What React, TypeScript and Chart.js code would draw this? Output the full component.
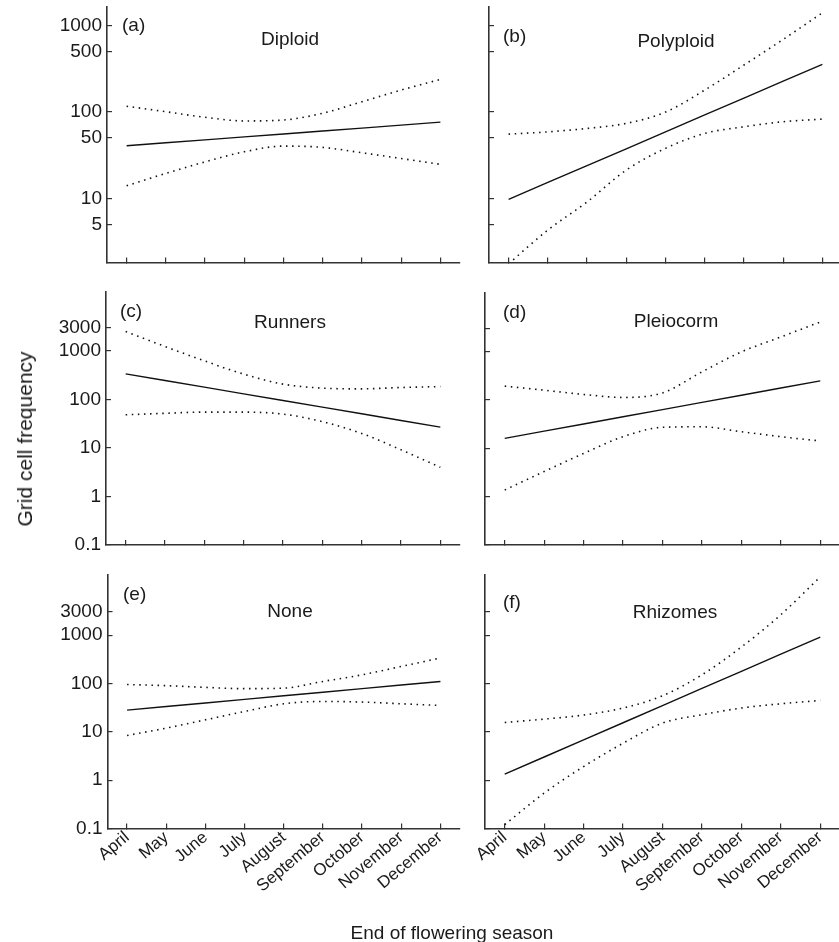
import React, { useEffect, useRef } from "react";
import { Chart, registerables } from "chart.js";
Chart.register(...registerables);

const months = ["April", "May", "June", "July", "August", "September", "October", "November", "December"];

const topTicks = [5, 10, 50, 100, 500, 1000];
const lowTicks = [0.1, 1, 10, 100, 1000, 3000];

const diploidFit = [40.7, 44.1, 47.7, 51.6, 55.8, 60.4, 65.3, 70.7, 76.5];
const diploidUpper = [117, 101, 87, 79, 81, 97, 132, 180, 239];
const diploidLower = [14, 19.5, 26.5, 34.7, 40.4, 39, 33.8, 29, 24.8];

const polyploidFit = [9.75, 15.3, 24, 37.6, 59, 92.7, 145, 228, 357];
const polyploidUpper = [55.6, 59, 64.7, 74, 100, 180, 351, 695, 1414];
const polyploidLower = [1.75, 4.3, 9.1, 21.3, 38, 56.6, 67.6, 77.3, 83];

const runnersFit = [339, 247, 180, 131, 95.7, 69.7, 50.8, 37, 27];
const runnersUpper = [2523, 1240, 628, 334, 208, 172, 166, 177, 185];
const runnersLower = [48.4, 52, 55, 55, 50, 35, 20, 9.2, 4.0];

const pleiocormFit = [16, 22.5, 31.7, 44.6, 62.8, 88.5, 124.5, 175, 246];
const pleiocormUpper = [192, 158, 129, 112, 139, 378, 977, 1990, 4055];
const pleiocormLower = [1.37, 3.3, 7.8, 17.3, 27, 27.7, 21.9, 17.3, 14.1];

const noneFit = [28.1, 33.3, 39.5, 46.9, 55.6, 65.9, 78.2, 92.7, 110];
const noneUpper = [95, 90, 83, 78, 80, 110, 151, 225, 336];
const noneLower = [8.4, 11.9, 17.7, 26.3, 38, 42.4, 41.2, 38, 35];

const rhizomesFit = [1.33, 3.01, 6.81, 15.4, 34.8, 78.9, 178, 404, 912];
const rhizomesUpper = [15.6, 18.3, 22.2, 31, 55.6, 151, 567, 2644, 16000];
const rhizomesLower = [0.12, 0.54, 1.91, 5.8, 15.1, 22.5, 31, 38, 44.5];

const FONT = '"Liberation Sans", Arial, Helvetica, sans-serif';
const AXIS = "#333";
const INK = "#1a1a1a";

type P = {
  tag: string; title: string;
  fit: number[]; upper: number[]; lower: number[];
  ticks: number[]; min: number; max: number;
  showX: boolean; showY: boolean;
  cx: number; cy: number; cw: number; ch: number;
  L: number; T: number; R: number; B: number;
  tagX: number; tagY: number; titleX: number; titleY: number;
};

const panels: P[] = [
  { tag: "(a)", title: "Diploid", fit: diploidFit, upper: diploidUpper, lower: diploidLower, ticks: topTicks, min: 1.81, max: 1650, showX: false, showY: true,
    cx: 0, cy: 0, cw: 470, ch: 280, L: 107, T: 7, R: 460, B: 262.5, tagX: 122, tagY: 26, titleX: 290, titleY: 40 },
  { tag: "(b)", title: "Polyploid", fit: polyploidFit, upper: polyploidUpper, lower: polyploidLower, ticks: topTicks, min: 1.81, max: 1650, showX: false, showY: false,
    cx: 465, cy: 0, cw: 380, ch: 280, L: 489, T: 7, R: 842, B: 262.5, tagX: 503, tagY: 37, titleX: 676, titleY: 42 },
  { tag: "(c)", title: "Runners", fit: runnersFit, upper: runnersUpper, lower: runnersLower, ticks: lowTicks, min: 0.1, max: 16500, showX: false, showY: true,
    cx: 0, cy: 280, cw: 470, ch: 285, L: 106, T: 292, R: 460, B: 545, tagX: 120, tagY: 312, titleX: 290, titleY: 323 },
  { tag: "(d)", title: "Pleiocorm", fit: pleiocormFit, upper: pleiocormUpper, lower: pleiocormLower, ticks: lowTicks, min: 0.1, max: 16500, showX: false, showY: false,
    cx: 465, cy: 280, cw: 380, ch: 285, L: 485, T: 292.5, R: 840, B: 545, tagX: 503, tagY: 313, titleX: 676, titleY: 322 },
  { tag: "(e)", title: "None", fit: noneFit, upper: noneUpper, lower: noneLower, ticks: lowTicks, min: 0.1, max: 17500, showX: true, showY: true,
    cx: 0, cy: 565, cw: 470, ch: 377, L: 107.5, T: 575, R: 460, B: 828.5, tagX: 123, tagY: 595, titleX: 290, titleY: 612 },
  { tag: "(f)", title: "Rhizomes", fit: rhizomesFit, upper: rhizomesUpper, lower: rhizomesLower, ticks: lowTicks, min: 0.1, max: 17500, showX: true, showY: false,
    cx: 465, cy: 565, cw: 380, ch: 377, L: 485, T: 575, R: 840, B: 828.5, tagX: 503, tagY: 603, titleX: 675, titleY: 613 },
];

const panelText = {
  id: "panelText",
  afterDraw(chart: any, _args: any, opts: any) {
    const ctx = chart.ctx;
    ctx.save();
    ctx.fillStyle = INK;
    ctx.font = `19px ${FONT}`;
    ctx.textBaseline = "middle";
    ctx.textAlign = "left";
    ctx.fillText(opts.tag, opts.tagX, opts.tagY);
    ctx.textAlign = "center";
    ctx.fillText(opts.title, opts.titleX, opts.titleY);
    ctx.restore();
  },
};

function Panel({ p }: { p: P }) {
  const ref = useRef<HTMLCanvasElement>(null);
  useEffect(() => {
    if (!ref.current) return;
    const dotted = {
      borderColor: "#111",
      borderWidth: 1.6,
      borderDash: [1.5, 4.6],
      pointRadius: 0,
      fill: false,
      cubicInterpolationMode: "monotone" as const,
    };
    const chart = new Chart(ref.current, {
      type: "line",
      data: {
        labels: months,
        datasets: [
          { data: p.fit, borderColor: "#111", borderWidth: 1.4, pointRadius: 0, fill: false, tension: 0 },
          { data: p.upper, ...dotted },
          { data: p.lower, ...dotted },
        ],
      },
      options: {
        responsive: false,
        animation: false,
        events: [],
        layout: { padding: { top: p.T - p.cy, right: p.cx + p.cw - p.R, left: 0, bottom: 0 } },
        plugins: {
          legend: { display: false },
          tooltip: { enabled: false },
          panelText: {
            tag: p.tag, title: p.title,
            tagX: p.tagX - p.cx, tagY: p.tagY - p.cy,
            titleX: p.titleX - p.cx, titleY: p.titleY - p.cy,
          },
        } as any,
        scales: {
          x: {
            type: "category",
            offset: true,
            grid: { offset: false, drawOnChartArea: false, drawTicks: true, tickLength: -5, color: AXIS, lineWidth: 1.2 },
            border: { display: true, color: AXIS, width: 1.6 },
            ticks: {
              display: p.showX,
              autoSkip: false,
              maxRotation: 40,
              minRotation: 40,
              padding: 4,
              color: INK,
              font: { family: FONT, size: 17 },
            },
            afterFit: (s: any) => {
              s.height = p.cy + p.ch - p.B;
              s.paddingLeft = 0;
              s.paddingRight = 0;
            },
          },
          y: {
            type: "logarithmic",
            min: p.min,
            max: p.max,
            grid: { drawOnChartArea: false, drawTicks: true, tickLength: -5, color: AXIS, lineWidth: 1.2 },
            border: { display: true, color: AXIS, width: 1.6 },
            afterBuildTicks: (s: any) => { s.ticks = p.ticks.map((v) => ({ value: v })); },
            ticks: {
              display: p.showY,
              padding: 10,
              color: INK,
              font: { family: FONT, size: 19 },
              callback: (v: any) => String(v),
            },
            afterFit: (s: any) => {
              s.width = p.L - p.cx;
              s.paddingTop = 0;
              s.paddingBottom = 0;
            },
          },
        },
      },
      plugins: [panelText],
    });
    return () => chart.destroy();
  }, []);
  return (
    <canvas
      ref={ref}
      width={p.cw}
      height={p.ch}
      style={{ position: "absolute", left: p.cx, top: p.cy, width: p.cw, height: p.ch }}
    />
  );
}

export default function App() {
  return (
    <div style={{ position: "absolute", left: 0, top: 0, width: 839, height: 942, overflow: "hidden", background: "#fff" }}>
      {panels.map((p) => <Panel key={p.tag} p={p} />)}
      <div
        style={{
          position: "absolute", left: 25, top: 439, transform: "translate(-50%, -50%) rotate(-90deg)",
          whiteSpace: "nowrap", font: `21px ${FONT}`, color: INK,
        }}
      >
        Grid cell frequency
      </div>
      <div
        style={{
          position: "absolute", left: 452, top: 933, transform: "translate(-50%, -50%)",
          whiteSpace: "nowrap", font: `19px ${FONT}`, color: INK,
        }}
      >
        End of flowering season
      </div>
    </div>
  );
}
